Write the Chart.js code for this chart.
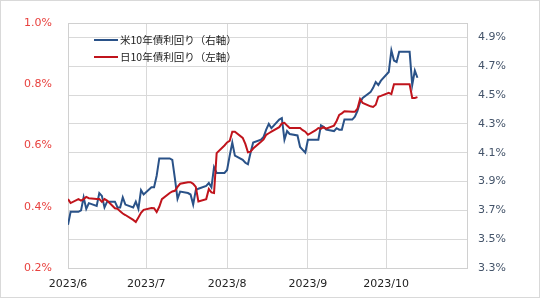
<!DOCTYPE html>
<html>
<head>
<meta charset="utf-8">
<script src="https://cdn.jsdelivr.net/npm/chart.js@4"></script>
<style>
  html, body { margin:0; padding:0; background:#fff; }
  #wrap { position:relative; width:540px; height:298px; box-sizing:border-box; border:1px solid #d9d9d9; }
  #c { position:absolute; left:-1px; top:-1px; }
  #legend { position:absolute; left:93px; top:30px; font-family:'Noto Sans CJK JP','Noto Sans',sans-serif; font-size:10.5px; color:#222; }
  #legend .row { height:17px; line-height:17px; white-space:nowrap; }
  #legend .sw { display:inline-block; width:24px; height:2px; vertical-align:middle; margin-right:2px; position:relative; top:-1px; }
</style>
</head>
<body>
<div id="wrap">
  <canvas id="c" width="540" height="298"></canvas>
  <div id="legend">
    <div class="row"><span class="sw" style="background:#2a5288"></span>米10年債利回り（右軸）</div>
    <div class="row"><span class="sw" style="background:#c0141c"></span>日10年債利回り（左軸）</div>
  </div>
</div>
<script>
// ---- data ----
const dates = [
  "2023-06-01","2023-06-02","2023-06-05","2023-06-06","2023-06-07","2023-06-08","2023-06-09","2023-06-12","2023-06-13","2023-06-14","2023-06-15","2023-06-16","2023-06-19","2023-06-20","2023-06-21","2023-06-22","2023-06-23","2023-06-26","2023-06-27","2023-06-28","2023-06-29","2023-06-30",
  "2023-07-03","2023-07-04","2023-07-05","2023-07-06","2023-07-07","2023-07-10","2023-07-11","2023-07-12","2023-07-13","2023-07-14","2023-07-17","2023-07-18","2023-07-19","2023-07-20","2023-07-21","2023-07-24","2023-07-25","2023-07-26","2023-07-27","2023-07-28","2023-07-31",
  "2023-08-01","2023-08-02","2023-08-03","2023-08-04","2023-08-07","2023-08-08","2023-08-09","2023-08-10","2023-08-11","2023-08-14","2023-08-15","2023-08-16","2023-08-17","2023-08-18","2023-08-21","2023-08-22","2023-08-23","2023-08-24","2023-08-25","2023-08-28","2023-08-29","2023-08-30","2023-08-31",
  "2023-09-01","2023-09-04","2023-09-05","2023-09-06","2023-09-07","2023-09-08","2023-09-11","2023-09-12","2023-09-13","2023-09-14","2023-09-15","2023-09-18","2023-09-19","2023-09-20","2023-09-21","2023-09-22","2023-09-25","2023-09-26","2023-09-27","2023-09-28","2023-09-29",
  "2023-10-02","2023-10-03","2023-10-04","2023-10-05","2023-10-06","2023-10-09","2023-10-10","2023-10-11","2023-10-12","2023-10-13"
];
const us10y = [
  3.60,3.69,3.69,3.70,3.79,3.71,3.75,3.73,3.82,3.80,3.72,3.76,3.76,3.72,3.72,3.79,3.74,3.72,3.76,3.71,3.84,3.81,
  3.86,3.86,3.94,4.06,4.06,4.06,4.05,3.92,3.78,3.83,3.82,3.81,3.74,3.84,3.85,3.87,3.89,3.86,4.00,3.96,3.96,
  3.98,4.08,4.17,4.08,4.05,4.03,4.02,4.10,4.17,4.19,4.21,4.26,4.30,4.27,4.33,4.34,4.19,4.25,4.23,4.22,4.14,4.12,4.10,
  4.19,4.19,4.19,4.29,4.28,4.26,4.25,4.27,4.26,4.26,4.33,4.33,4.35,4.39,4.45,4.48,4.52,4.55,4.59,4.57,4.60,
  4.66,4.81,4.74,4.73,4.80,4.80,4.80,4.57,4.67,4.62
];
const jp10y = [
  0.425,0.412,0.425,0.420,0.425,0.432,0.428,0.425,0.425,0.416,0.425,0.420,0.395,0.393,0.385,0.378,0.373,0.357,0.350,0.365,0.380,0.390,
  0.396,0.395,0.383,0.400,0.425,0.445,0.450,0.452,0.465,0.475,0.480,0.480,0.475,0.465,0.417,0.425,0.458,0.447,0.445,0.575,0.600,
  0.610,0.615,0.645,0.645,0.625,0.605,0.578,0.580,0.590,0.612,0.620,0.635,0.640,0.645,0.660,0.672,0.674,0.665,0.657,0.657,0.657,0.650,0.645,
  0.635,0.650,0.657,0.655,0.660,0.655,0.665,0.680,0.700,0.705,0.712,0.710,0.710,0.720,0.752,0.739,0.728,0.726,0.733,0.759,0.762,
  0.772,0.768,0.800,0.800,0.800,0.800,0.800,0.755,0.755,0.758
];
const monthLabels = ["2023/6","2023/7","2023/8","2023/9","2023/10"];
const monthStarts = ["2023-06-01","2023-07-01","2023-08-01","2023-09-01","2023-10-01"];
const axisEnd = "2023-11-01";
const leftTicks = [0.2,0.4,0.6,0.8,1.0];
const rightTicks = [3.3,3.5,3.7,3.9,4.1,4.3,4.5,4.7,4.9];

// ---- helpers ----
const base = Date.UTC(2023,5,1);
function dayOf(s){ const [y,m,d]=s.split('-').map(Number); return Math.round((Date.UTC(y,m-1,d)-base)/86400000); }
const monthTicks = monthStarts.map(dayOf);
const usPts = dates.map((d,i)=>({x:dayOf(d), y:us10y[i]}));
const jpPts = dates.map((d,i)=>({x:dayOf(d), y:jp10y[i]}));

const gridColor = '#d9d9d9';
const tickFont = {family:'"DejaVu Sans", Verdana, sans-serif', size:11};

const borderPlugin = {
  id:'plotBorder',
  beforeDatasetsDraw(chart){
    const a = chart.chartArea, ctx = chart.ctx;
    ctx.save();
    ctx.strokeStyle = '#d0d0d0';
    ctx.lineWidth = 1;
    ctx.strokeRect(Math.round(a.left)+0.5, Math.round(a.top)+0.5, Math.round(a.right-a.left), Math.round(a.bottom-a.top));
    ctx.restore();
  }
};

new Chart(document.getElementById('c'), {
  type:'line',
  data:{
    datasets:[
      {label:'日10年債利回り（左軸）', data:jpPts, yAxisID:'yL', borderColor:'#c0141c', borderWidth:2, pointRadius:0, tension:0, order:0},
      {label:'米10年債利回り（右軸）', data:usPts, yAxisID:'yR', borderColor:'#2a5288', borderWidth:2, pointRadius:0, tension:0, order:1}
    ]
  },
  options:{
    responsive:false,
    animation:false,
    devicePixelRatio:1,
    layout:{padding:{top:23, left:0, right:0, bottom:0}},
    plugins:{legend:{display:false}, tooltip:{enabled:false}},
    scales:{
      x:{
        type:'linear', min:0, max:dayOf(axisEnd),
        afterBuildTicks(s){ s.ticks = monthTicks.map(v=>({value:v})); },
        afterFit(s){ s.height = 30; },
        ticks:{ autoSkip:false, maxRotation:0, padding:10, color:'#222', font:tickFont,
          callback(v){ const i = monthTicks.indexOf(v); return i>=0 ? monthLabels[i] : ''; } },
        grid:{ color:gridColor, drawTicks:false },
        border:{ display:false }
      },
      yL:{
        position:'left', min:0.2, max:1.0,
        afterBuildTicks(s){ s.ticks = leftTicks.map(v=>({value:v})); },
        afterFit(s){ s.width = 68; },
        ticks:{ padding:16, color:'#e8423f', font:tickFont, callback(v){ return v.toFixed(1)+'%'; } },
        grid:{ display:false, drawTicks:false },
        border:{ display:false }
      },
      yR:{
        position:'right', min:3.3, max:5.0,
        afterBuildTicks(s){ s.ticks = rightTicks.map(v=>({value:v})); },
        afterFit(s){ s.width = 73; },
        ticks:{ padding:11, color:'#44546a', font:tickFont, callback(v){ return v.toFixed(1)+'%'; } },
        grid:{ color:gridColor, drawTicks:false },
        border:{ display:false }
      }
    }
  },
  plugins:[borderPlugin]
});
</script>
</body>
</html>
